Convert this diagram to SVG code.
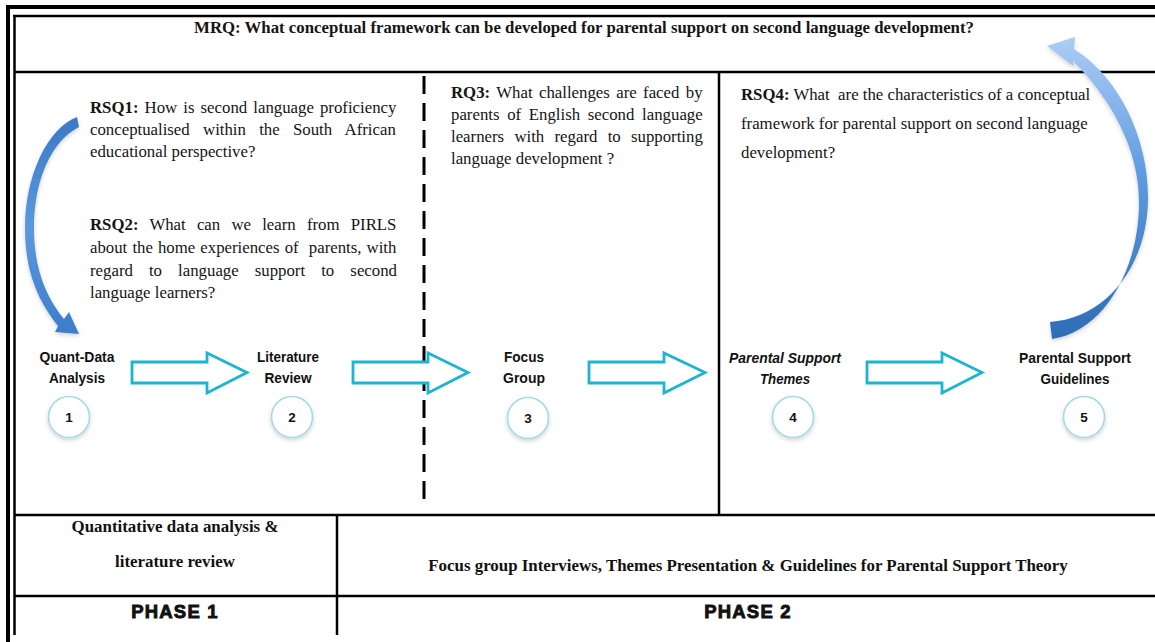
<svg xmlns="http://www.w3.org/2000/svg" width="1155" height="642" viewBox="0 0 1155 642">
  <style>
    .rule { stroke: #000; stroke-width: 2.5; fill: none; }
    .heavy { stroke: #000; stroke-width: 4; fill: none; }
    .q { font-family: "Liberation Serif", "Times New Roman", serif; font-size: 16.8px; fill: #151515; }
    .qb { font-weight: bold; }
    .lbl { font-family: "Liberation Sans", Arial, sans-serif; font-size: 15px; font-weight: bold; fill: #111; text-anchor: middle; }
    .num { font-family: "Liberation Sans", Arial, sans-serif; font-size: 13.5px; font-weight: bold; fill: #111; text-anchor: middle; }
    .step { fill: #fff; stroke: #1cb4d0; stroke-width: 2.8; stroke-linejoin: miter; }
    .badge { fill: #fff; stroke: #a3d9e6; stroke-width: 1.6; }
    .foot { font-family: "Liberation Serif", "Times New Roman", serif; font-size: 16.9px; font-weight: bold; fill: #111; text-anchor: middle; }
    .phase { font-family: "Liberation Sans", Arial, sans-serif; font-size: 18.5px; font-weight: bold; fill: #111; stroke: #111; stroke-width: 0.9; letter-spacing: 1.2px; text-anchor: middle; }
  </style>
  <defs>
    <linearGradient id="loopLeft" gradientUnits="userSpaceOnUse" x1="0" y1="115" x2="0" y2="340">
      <stop offset="0" stop-color="#3a78c6"/>
      <stop offset="0.5" stop-color="#5b99de"/>
      <stop offset="1" stop-color="#3b7bc8"/>
    </linearGradient>
    <linearGradient id="loopRight" gradientUnits="userSpaceOnUse" x1="0" y1="340" x2="0" y2="38">
      <stop offset="0" stop-color="#2d6cb6"/>
      <stop offset="0.55" stop-color="#5f9be0"/>
      <stop offset="1" stop-color="#abcdf4"/>
    </linearGradient>
    <filter id="soft" x="-30%" y="-30%" width="160%" height="160%">
      <feDropShadow dx="0" dy="2" stdDeviation="2" flood-color="#000" flood-opacity="0.18"/>
    </filter>
  </defs>

  <rect width="1155" height="642" fill="#fff"/>

  <!-- table frame and cell rules -->
  <g id="frame">
    <line class="heavy" x1="6" y1="7" x2="1155" y2="7"/>
    <line class="heavy" x1="8" y1="5" x2="8" y2="642"/>
    <line class="rule" x1="13" y1="16" x2="1155" y2="16"/>
    <line class="rule" x1="14.5" y1="15" x2="14.5" y2="635"/>
    <line class="rule" x1="14" y1="72" x2="1155" y2="72"/>
    <line class="rule" x1="14" y1="515" x2="1155" y2="515"/>
    <line class="rule" x1="14" y1="596" x2="1155" y2="596"/>
    <line class="rule" x1="337" y1="515" x2="337" y2="635"/>
    <line class="rule" x1="719" y1="72" x2="719" y2="515"/>
    <line x1="424" y1="76" x2="424" y2="505" stroke="#000" stroke-width="3" stroke-dasharray="18 9"/>
  </g>

  <!-- main research question -->
  <g id="mrq">
    <text class="q qb" x="584" y="33" text-anchor="middle">MRQ: What conceptual framework can be developed for parental support on second language development?</text>
  </g>

  <!-- sub-questions -->
  <g id="rsq1">
    <text class="q" x="90" y="113" style="word-spacing:1.9px"><tspan class="qb">RSQ1:</tspan> How is second language proficiency</text>
    <text class="q" x="90" y="135" style="word-spacing:9.1px">conceptualised within the South African</text>
    <text class="q" x="90" y="157">educational perspective?</text>
  </g>
  <g id="rsq2">
    <text class="q" x="90" y="230" style="word-spacing:7px"><tspan class="qb">RSQ2:</tspan> What can we learn from PIRLS</text>
    <text class="q" x="90" y="253" style="word-spacing:0.9px" xml:space="preserve">about the home experiences of  parents, with</text>
    <text class="q" x="90" y="276" style="word-spacing:11.9px">regard to language support to second</text>
    <text class="q" x="90" y="298">language learners?</text>
  </g>
  <g id="rq3">
    <text class="q" x="451" y="98" style="word-spacing:2.2px"><tspan class="qb">RQ3:</tspan> What challenges are faced by</text>
    <text class="q" x="451" y="120" style="word-spacing:3.5px">parents of English second language</text>
    <text class="q" x="451" y="142" style="word-spacing:6.1px">learners with regard to supporting</text>
    <text class="q" x="451" y="164">language development ?</text>
  </g>
  <g id="rsq4">
    <text class="q" x="741" y="100" xml:space="preserve"><tspan class="qb">RSQ4:</tspan> What  are the characteristics of a conceptual</text>
    <text class="q" x="741" y="129">framework for parental support on second language</text>
    <text class="q" x="741" y="158">development?</text>
  </g>

  <!-- process steps -->
  <g id="step1">
    <text class="lbl" x="77" y="362" textLength="75" lengthAdjust="spacingAndGlyphs">Quant-Data</text>
    <text class="lbl" x="77" y="383" textLength="56" lengthAdjust="spacingAndGlyphs">Analysis</text>
    <circle class="badge" cx="69" cy="417" r="20.5" filter="url(#soft)"/>
    <text class="num" x="69" y="422">1</text>
  </g>
  <g id="step2">
    <text class="lbl" x="288" y="362" textLength="62" lengthAdjust="spacingAndGlyphs">Literature</text>
    <text class="lbl" x="288" y="383" textLength="47" lengthAdjust="spacingAndGlyphs">Review</text>
    <circle class="badge" cx="292" cy="417" r="20.5" filter="url(#soft)"/>
    <text class="num" x="292" y="422">2</text>
  </g>
  <g id="step3">
    <text class="lbl" x="524" y="362" textLength="40" lengthAdjust="spacingAndGlyphs">Focus</text>
    <text class="lbl" x="524" y="383" textLength="42" lengthAdjust="spacingAndGlyphs">Group</text>
    <circle class="badge" cx="528" cy="418" r="20.5" filter="url(#soft)"/>
    <text class="num" x="528" y="423">3</text>
  </g>
  <g id="step4">
    <text class="lbl" x="785" y="363" font-style="italic" textLength="112" lengthAdjust="spacingAndGlyphs">Parental Support</text>
    <text class="lbl" x="785" y="384" font-style="italic" textLength="50" lengthAdjust="spacingAndGlyphs">Themes</text>
    <circle class="badge" cx="793" cy="417" r="20.5" filter="url(#soft)"/>
    <text class="num" x="793" y="422">4</text>
  </g>
  <g id="step5">
    <text class="lbl" x="1075" y="363" textLength="112" lengthAdjust="spacingAndGlyphs">Parental Support</text>
    <text class="lbl" x="1075" y="384" textLength="69" lengthAdjust="spacingAndGlyphs">Guidelines</text>
    <circle class="badge" cx="1084" cy="417" r="20.5" filter="url(#soft)"/>
    <text class="num" x="1084" y="422">5</text>
  </g>

  <!-- connectors: hollow block arrows and the two feedback loops -->
  <g id="connectors">
    <polygon class="step" points="132,362 207,362 207,353 247,372.5 207,393 207,383 132,383"/>
    <polygon class="step" points="353,362 428,362 428,353 468,372.5 428,393 428,383 353,383"/>
    <polygon class="step" points="589,362 664,362 664,353 705,372.5 664,393 664,383 589,383"/>
    <polygon class="step" points="867,362 942,362 942,353 982,372.5 942,393 942,383 867,383"/>
    <path fill="url(#loopLeft)" filter="url(#soft)" d="M77,117 C48,128 25,175 25,228 C25,275 40,303 58,326 L55,332 L79,334 L69,312 L64,319 C47,298 34,270 34,228 C34,181 51,141 79,127 Z"/>
    <path fill="url(#loopRight)" filter="url(#soft)" d="M1047,46 L1075,37 L1074,49 C1120,78 1149,140 1148,200 C1147,268 1105,318 1050,322 L1052,339 C1102,332 1139,272 1139,202 C1139,150 1112,100 1073,61 L1073,66 Z"/>
  </g>

  <!-- phase rows -->
  <g id="phase1">
    <text class="foot" x="175" y="532">Quantitative data analysis &amp;</text>
    <text class="foot" x="175" y="567">literature review</text>
    <text class="phase" x="175" y="618">PHASE 1</text>
  </g>
  <g id="phase2">
    <text class="foot" x="748" y="571">Focus group Interviews, Themes Presentation &amp; Guidelines for Parental Support Theory</text>
    <text class="phase" x="748" y="618">PHASE 2</text>
  </g>
</svg>
